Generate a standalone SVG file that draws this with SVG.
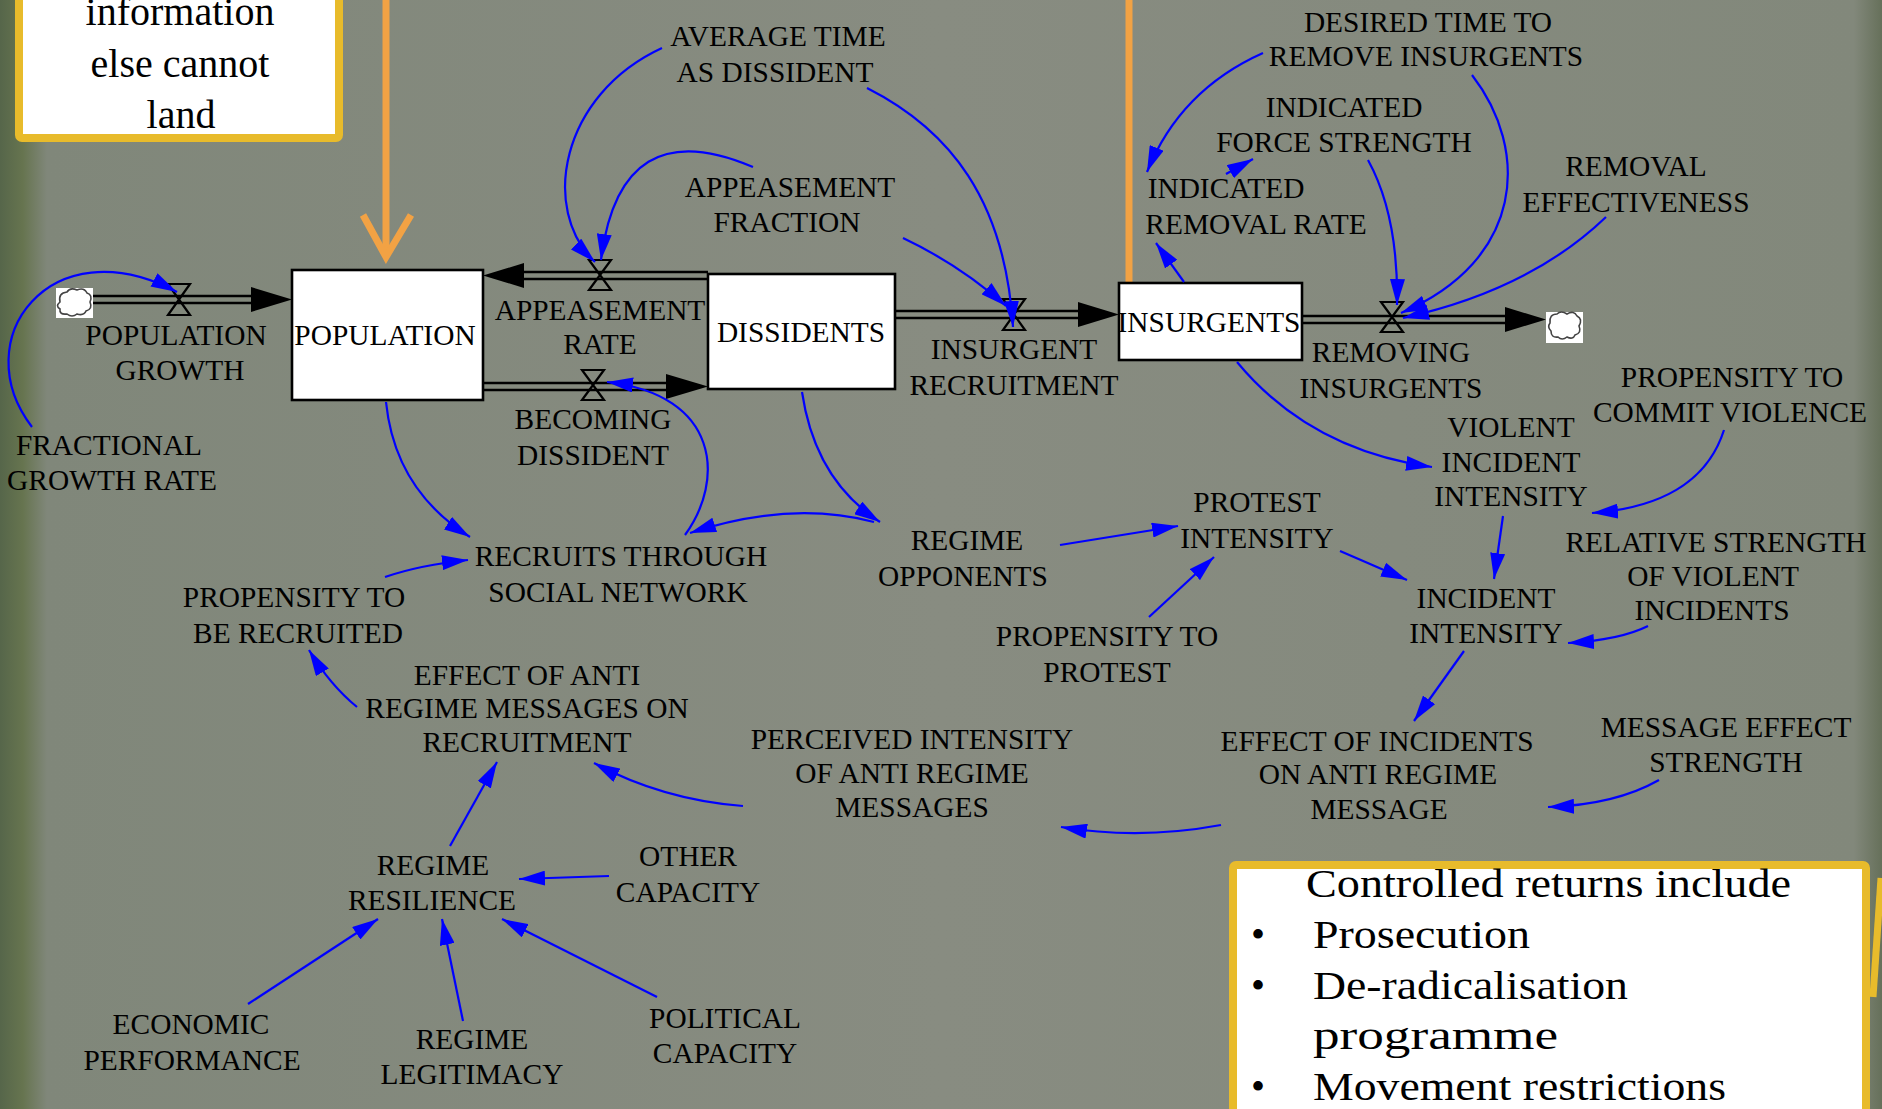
<svg xmlns="http://www.w3.org/2000/svg" width="1882" height="1109" viewBox="0 0 1882 1109">
<defs>
<linearGradient id="bg" x1="0" y1="0" x2="1" y2="0">
<stop offset="0" stop-color="#56664a"/>
<stop offset="0.012" stop-color="#66744f"/>
<stop offset="0.025" stop-color="#80877a"/>
<stop offset="0.5" stop-color="#888c81"/>
<stop offset="0.985" stop-color="#82887b"/>
<stop offset="1" stop-color="#66705a"/>
</linearGradient>
<marker id="ah" viewBox="0 0 26 15" refX="26" refY="7.5" markerWidth="26" markerHeight="15" markerUnits="userSpaceOnUse" orient="auto">
<path d="M0,0 L26,7.5 L0,15 z" fill="#0000ff"/>
</marker>
<style>
.lbl{font-family:"Liberation Serif","Times New Roman",serif;font-size:29.4px;fill:#000;text-anchor:middle}
.note{font-family:"Liberation Serif","Times New Roman",serif;font-size:40px;fill:#000}
.link{fill:none;stroke:#0000ff;stroke-width:2.2;marker-end:url(#ah)}
.pipe{fill:none;stroke:#000;stroke-width:2.6}
.valve{fill:none;stroke:#000;stroke-width:2.2}
.head{fill:#000}
.stock{fill:#fff;stroke:#000;stroke-width:2.6}
.cloudbox{fill:#fff}
.cloud{fill:#fff;stroke:#444;stroke-width:1.6}
.orange{fill:none;stroke:#f2a244;stroke-width:7}
.callout{fill:#fff;stroke:#e8bb2b;stroke-width:8}
</style>
</defs>
<rect x="0" y="0" width="1882" height="1109" fill="url(#bg)"/>

<!-- callout boxes and orange pointers -->
<g id="note-top">
<rect class="callout" x="19" y="-20" width="320" height="158" rx="3"/>
<text class="note" text-anchor="middle" x="180" y="25">information</text>
<text class="note" text-anchor="middle" x="180" y="77">else cannot</text>
<text class="note" text-anchor="middle" x="181" y="128">land</text>
</g>
<g id="pointer-population">
<line class="orange" x1="386" y1="0" x2="386" y2="256"/>
<polyline class="orange" points="363,215 386,257 411,215" stroke-linejoin="miter"/>
</g>
<g id="pointer-insurgents">
<line class="orange" x1="1129" y1="0" x2="1129" y2="288" stroke-width="6"/>
</g>
<g id="note-bottom">
<rect class="callout" x="1233" y="865" width="633" height="252" rx="3"/>
<text class="note" x="1306" y="897" textLength="485" lengthAdjust="spacingAndGlyphs">Controlled returns include</text>
<text class="note" x="1251" y="948">•</text>
<text class="note" x="1313" y="948" textLength="217" lengthAdjust="spacingAndGlyphs">Prosecution</text>
<text class="note" x="1251" y="999">•</text>
<text class="note" x="1313" y="999" textLength="315" lengthAdjust="spacingAndGlyphs">De-radicalisation</text>
<text class="note" x="1313" y="1049" textLength="245" lengthAdjust="spacingAndGlyphs">programme</text>
<text class="note" x="1251" y="1100">•</text>
<text class="note" x="1313" y="1100" textLength="413" lengthAdjust="spacingAndGlyphs">Movement restrictions</text>
</g>
<g id="pointer-right">
<line x1="1881" y1="878" x2="1873" y2="997" style="stroke:#e8bb2b;stroke-width:7"/>
</g>

<!-- flows (pipes, valves, arrowheads) -->
<g id="flows">
<line class="pipe" x1="93" y1="296" x2="260" y2="296"/>
<line class="pipe" x1="93" y1="303" x2="260" y2="303"/>
<polygon class="head" points="251,287 292,299.5 251,312"/>
<path class="valve" d="M168,284 H190 L168,315 H190 Z"/>

<line class="pipe" x1="515" y1="272" x2="708" y2="272"/>
<line class="pipe" x1="515" y1="279" x2="708" y2="279"/>
<polygon class="head" points="524,263 483,275.5 524,288"/>
<path class="valve" d="M589,260 H611 L589,290 H611 Z"/>

<line class="pipe" x1="483" y1="383" x2="675" y2="383"/>
<line class="pipe" x1="483" y1="390" x2="675" y2="390"/>
<polygon class="head" points="666,374 708,386.5 666,399"/>
<path class="valve" d="M582,370 H604 L582,400 H604 Z"/>

<line class="pipe" x1="895" y1="311" x2="1085" y2="311"/>
<line class="pipe" x1="895" y1="318" x2="1085" y2="318"/>
<polygon class="head" points="1078,302 1119,314.5 1078,327"/>
<path class="valve" d="M1003,299 H1025 L1003,330 H1025 Z"/>

<line class="pipe" x1="1302" y1="316" x2="1512" y2="316"/>
<line class="pipe" x1="1302" y1="323" x2="1512" y2="323"/>
<polygon class="head" points="1505,307 1546,319.5 1505,332"/>
<path class="valve" d="M1381,302 H1403 L1381,332 H1403 Z"/>
</g>

<!-- stocks -->
<g id="source-cloud">
<rect class="cloudbox" x="56" y="288" width="37" height="30"/>
<path class="cloud" d="M60,302 q-2,-9 7,-10 q3,-5 10,-2 q7,-3 10,3 q6,2 3,9 q3,7 -4,9 q-2,5 -9,3 q-5,4 -10,0 q-8,1 -7,-5 q-5,-3 0,-7 z"/>
</g>
<g id="sink-cloud">
<rect class="cloudbox" x="1546" y="312" width="37" height="31"/>
<path class="cloud" d="M1550,323 q-1,-9 7,-9 q4,-4 10,0 q7,-4 10,2 q6,3 2,10 q3,7 -4,9 q-2,5 -8,2 q-5,4 -9,0 q-7,1 -7,-6 q-4,-4 -1,-8 z"/>
</g>
<g id="population">
<rect class="stock" x="292" y="270" width="191" height="130"/>
<text class="lbl" x="385" y="345">POPULATION</text>
</g>
<g id="dissidents">
<rect class="stock" x="708" y="274" width="187" height="115"/>
<text class="lbl" x="801" y="342">DISSIDENTS</text>
</g>
<g id="insurgents">
<rect class="stock" x="1119" y="283" width="183" height="77"/>
<text class="lbl" x="1209" y="332">INSURGENTS</text>
</g>

<!-- connectors -->
<g id="links">
<path class="link" d="M32,427 C-35,340 50,225 177,292"/>
<path class="link" d="M662,48 C560,95 540,210 595,262"/>
<path class="link" d="M753,167 Q620,110 601,260"/>
<path class="link" d="M867,88 C950,130 1005,200 1013,327"/>
<path class="link" d="M903,238 Q960,265 1006,306"/>
<path class="link" d="M1263,53 Q1180,90 1147,172"/>
<path class="link" d="M1226,174 L1253,159"/>
<path class="link" d="M1368,160 C1390,200 1398,250 1397,305"/>
<path class="link" d="M1472,75 C1530,150 1525,260 1401,313"/>
<path class="link" d="M1606,217 Q1530,290 1403,318"/>
<path class="link" d="M1184,282 L1156,243"/>
<path class="link" d="M1237,362 Q1310,450 1432,467"/>
<path class="link" d="M386,402 Q395,490 470,537"/>
<path class="link" d="M802,392 Q815,480 880,522"/>
<path class="link" d="M874,522 Q790,500 690,533"/>
<path class="link" d="M685,535 C725,480 720,395 607,382"/>
<path class="link" d="M385,577 Q420,565 468,560"/>
<path class="link" d="M357,707 Q330,685 309,650"/>
<path class="link" d="M450,846 L497,762"/>
<path class="link" d="M743,806 Q663,800 594,763"/>
<path class="link" d="M609,876 L519,879"/>
<path class="link" d="M248,1004 L378,919"/>
<path class="link" d="M463,1021 L442,919"/>
<path class="link" d="M657,997 L502,919"/>
<path class="link" d="M1060,545 L1178,526"/>
<path class="link" d="M1149,617 L1214,557"/>
<path class="link" d="M1340,551 L1407,580"/>
<path class="link" d="M1503,516 L1494,579"/>
<path class="link" d="M1724,430 Q1700,505 1592,513"/>
<path class="link" d="M1648,626 Q1620,640 1568,643"/>
<path class="link" d="M1464,651 L1414,721"/>
<path class="link" d="M1659,780 Q1615,805 1548,807"/>
<path class="link" d="M1221,825 Q1140,840 1061,827"/>
</g>

<!-- auxiliaries and flow labels -->
<g id="population-growth"><text class="lbl"><tspan x="176" y="345">POPULATION</tspan><tspan x="180" y="380">GROWTH</tspan></text></g>
<g id="fractional-growth-rate"><text class="lbl"><tspan x="109" y="455">FRACTIONAL</tspan><tspan x="112" y="490">GROWTH RATE</tspan></text></g>
<g id="average-time-as-dissident"><text class="lbl"><tspan x="778" y="46">AVERAGE TIME</tspan><tspan x="775" y="82">AS DISSIDENT</tspan></text></g>
<g id="appeasement-fraction"><text class="lbl"><tspan x="790" y="197">APPEASEMENT</tspan><tspan x="787" y="232">FRACTION</tspan></text></g>
<g id="appeasement-rate"><text class="lbl"><tspan x="600" y="320">APPEASEMENT</tspan><tspan x="600" y="354">RATE</tspan></text></g>
<g id="becoming-dissident"><text class="lbl"><tspan x="593" y="429">BECOMING</tspan><tspan x="593" y="465">DISSIDENT</tspan></text></g>
<g id="insurgent-recruitment"><text class="lbl"><tspan x="1014" y="359">INSURGENT</tspan><tspan x="1014" y="395">RECRUITMENT</tspan></text></g>
<g id="desired-time-to-remove"><text class="lbl"><tspan x="1428" y="32">DESIRED TIME TO</tspan><tspan x="1426" y="66">REMOVE INSURGENTS</tspan></text></g>
<g id="indicated-force-strength"><text class="lbl"><tspan x="1344" y="117">INDICATED</tspan><tspan x="1344" y="152">FORCE STRENGTH</tspan></text></g>
<g id="indicated-removal-rate"><text class="lbl"><tspan x="1226" y="198">INDICATED</tspan><tspan x="1256" y="234">REMOVAL RATE</tspan></text></g>
<g id="removal-effectiveness"><text class="lbl"><tspan x="1636" y="176">REMOVAL</tspan><tspan x="1636" y="212">EFFECTIVENESS</tspan></text></g>
<g id="removing-insurgents"><text class="lbl"><tspan x="1391" y="362">REMOVING</tspan><tspan x="1391" y="398">INSURGENTS</tspan></text></g>
<g id="propensity-commit-violence"><text class="lbl"><tspan x="1732" y="387">PROPENSITY TO</tspan><tspan x="1730" y="422">COMMIT VIOLENCE</tspan></text></g>
<g id="violent-incident-intensity"><text class="lbl"><tspan x="1511" y="437">VIOLENT</tspan><tspan x="1511" y="472">INCIDENT</tspan><tspan x="1511" y="506">INTENSITY</tspan></text></g>
<g id="relative-strength"><text class="lbl"><tspan x="1716" y="552">RELATIVE STRENGTH</tspan><tspan x="1713" y="586">OF VIOLENT</tspan><tspan x="1712" y="620">INCIDENTS</tspan></text></g>
<g id="protest-intensity"><text class="lbl"><tspan x="1257" y="512">PROTEST</tspan><tspan x="1257" y="548">INTENSITY</tspan></text></g>
<g id="regime-opponents"><text class="lbl"><tspan x="967" y="550">REGIME</tspan><tspan x="963" y="586">OPPONENTS</tspan></text></g>
<g id="recruits-social-network"><text class="lbl"><tspan x="621" y="566">RECRUITS THROUGH</tspan><tspan x="618" y="602">SOCIAL NETWORK</tspan></text></g>
<g id="propensity-be-recruited"><text class="lbl"><tspan x="294" y="607">PROPENSITY TO</tspan><tspan x="298" y="643">BE RECRUITED</tspan></text></g>
<g id="propensity-protest"><text class="lbl"><tspan x="1107" y="646">PROPENSITY TO</tspan><tspan x="1107" y="682">PROTEST</tspan></text></g>
<g id="incident-intensity"><text class="lbl"><tspan x="1486" y="608">INCIDENT</tspan><tspan x="1486" y="643">INTENSITY</tspan></text></g>
<g id="effect-anti-regime-recruitment"><text class="lbl"><tspan x="527" y="685">EFFECT OF ANTI</tspan><tspan x="527" y="718">REGIME MESSAGES ON</tspan><tspan x="527" y="752">RECRUITMENT</tspan></text></g>
<g id="perceived-intensity"><text class="lbl"><tspan x="912" y="749">PERCEIVED INTENSITY</tspan><tspan x="912" y="783">OF ANTI REGIME</tspan><tspan x="912" y="817">MESSAGES</tspan></text></g>
<g id="effect-incidents"><text class="lbl"><tspan x="1377" y="751">EFFECT OF INCIDENTS</tspan><tspan x="1378" y="784">ON ANTI REGIME</tspan><tspan x="1379" y="819">MESSAGE</tspan></text></g>
<g id="message-effect-strength"><text class="lbl"><tspan x="1726" y="737">MESSAGE EFFECT</tspan><tspan x="1726" y="772">STRENGTH</tspan></text></g>
<g id="regime-resilience"><text class="lbl"><tspan x="433" y="875">REGIME</tspan><tspan x="432" y="910">RESILIENCE</tspan></text></g>
<g id="other-capacity"><text class="lbl"><tspan x="688" y="866">OTHER</tspan><tspan x="688" y="902">CAPACITY</tspan></text></g>
<g id="economic-performance"><text class="lbl"><tspan x="191" y="1034">ECONOMIC</tspan><tspan x="192" y="1070">PERFORMANCE</tspan></text></g>
<g id="regime-legitimacy"><text class="lbl"><tspan x="472" y="1049">REGIME</tspan><tspan x="472" y="1084">LEGITIMACY</tspan></text></g>
<g id="political-capacity"><text class="lbl"><tspan x="725" y="1028">POLITICAL</tspan><tspan x="725" y="1063">CAPACITY</tspan></text></g>
</svg>
